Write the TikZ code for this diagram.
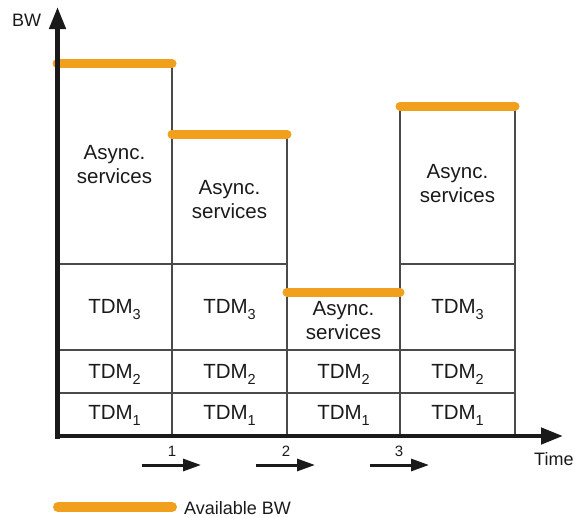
\documentclass[tikz,border=0pt]{standalone}
\usepackage{fontspec}
\setmainfont{Liberation Sans}
\usetikzlibrary{arrows.meta}
\definecolor{bworange}{HTML}{F0A01C}
\definecolor{axisblack}{HTML}{1A1A1A}
\definecolor{gridgray}{HTML}{4A4A4A}
\newcommand\tdmsub[1]{\raisebox{-0.34em}{\fontsize{14.5}{14.5}\selectfont #1}}
\tikzset{
  axisline/.style={line width=4.5pt, draw=axisblack, -{Triangle[length=22pt,width=16pt]}},
  gridline/.style={line width=1.1pt, draw=gridgray},
  availbw/.style={line width=9pt, draw=bworange, line cap=round},
  celltext/.style={font=\fontsize{20.5}{24}\selectfont, align=center, inner sep=0pt, text=axisblack},
  tdmtext/.style={font=\fontsize{20.5}{24}\selectfont, inner sep=0pt, anchor=base, text=axisblack},
  axistext/.style={font=\fontsize{18}{20}\selectfont, inner sep=0pt, text=axisblack},
  ticktext/.style={font=\fontsize{15}{17}\selectfont, inner sep=0pt, anchor=base, text=axisblack},
  stepper/.style={line width=3pt, draw=axisblack, -{Triangle[length=18pt,width=12pt]}},
}
\begin{document}
\begin{tikzpicture}[x=1pt, y=-1pt]
\useasboundingbox (0,0) rectangle (575,517);

% column grid
\draw[gridline] (59.5,63.5) -- (59.5,436);
\draw[gridline] (172,63.5) -- (172,436);
\draw[gridline] (287,134) -- (287,436);
\draw[gridline] (400,106) -- (400,436);
\draw[gridline] (515,106) -- (515,436);
\draw[gridline] (57,264) -- (287,264);
\draw[gridline] (400,264) -- (515,264);
\draw[gridline] (57,350) -- (515,350);
\draw[gridline] (57,393) -- (515,393);

% available bandwidth per interval
\draw[availbw] (57,63.5) -- (172,63.5);
\draw[availbw] (172,134) -- (287,134);
\draw[availbw] (287,292) -- (400,292);
\draw[availbw] (400,106) -- (515,106);

% cell labels
\node[celltext] (as1) at (114.5,165) {Async.\\services};
\node[celltext] (as2) at (229.5,200) {Async.\\services};
\node[celltext] (as3) at (343.5,321) {Async.\\services};
\node[celltext] (as4) at (457.5,184) {Async.\\services};

\node[tdmtext] (t31) at (114.5,313) {TDM\tdmsub{3}};
\node[tdmtext] (t32) at (229.5,313) {TDM\tdmsub{3}};
\node[tdmtext] (t34) at (457.5,313) {TDM\tdmsub{3}};
\node[tdmtext] (t21) at (114.5,378) {TDM\tdmsub{2}};
\node[tdmtext] (t22) at (229.5,378) {TDM\tdmsub{2}};
\node[tdmtext] (t23) at (343.5,378) {TDM\tdmsub{2}};
\node[tdmtext] (t24) at (457.5,378) {TDM\tdmsub{2}};
\node[tdmtext] (t11) at (114.5,419) {TDM\tdmsub{1}};
\node[tdmtext] (t12) at (229.5,419) {TDM\tdmsub{1}};
\node[tdmtext] (t13) at (343.5,419) {TDM\tdmsub{1}};
\node[tdmtext] (t14) at (457.5,419) {TDM\tdmsub{1}};

% axes
\coordinate (origin) at (55,436);
\coordinate (ytop) at (57.5,7);
\coordinate (ybot) at (57.5,438.5);
\coordinate (xend) at (563,436);
\draw[axisline] (ybot) -- (ytop);
\draw[axisline] (origin) -- (xend);
\node[axistext, anchor=base west] (bw) at (12,26) {BW};
\node[axistext, anchor=base west] (time) at (534,465) {Time};

% switching instants
\node[ticktext] (k1) at (172,456) {1};
\node[ticktext] (k2) at (286,456) {2};
\node[ticktext] (k3) at (399,456) {3};
\coordinate (a1s) at (142,465); \coordinate (a1e) at (201,465);
\coordinate (a2s) at (256,465); \coordinate (a2e) at (315,465);
\coordinate (a3s) at (370,465); \coordinate (a3e) at (429,465);
\draw[stepper] (a1s) -- (a1e);
\draw[stepper] (a2s) -- (a2e);
\draw[stepper] (a3s) -- (a3e);

% legend
\coordinate (lg1) at (58,507);
\coordinate (lg2) at (172,507);
\draw[availbw, line width=10pt] (lg1) -- (lg2);
\node[axistext, anchor=base west] (legend) at (184,514) {Available BW};
\end{tikzpicture}
\end{document}
